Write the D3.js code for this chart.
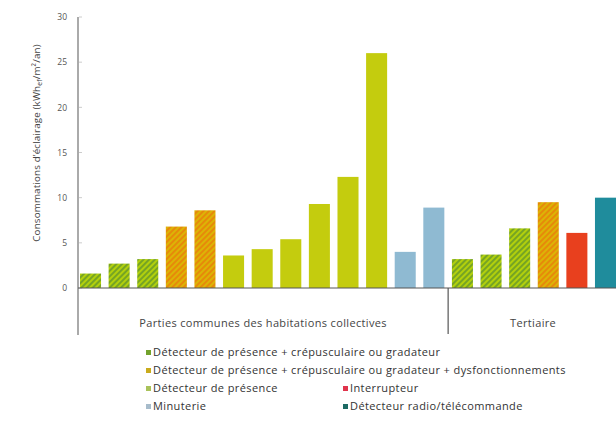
<!DOCTYPE html>
<html><head><meta charset="utf-8">
<script src="https://cdn.jsdelivr.net/npm/d3@7"></script>
<style>body{margin:0;background:#fff;}svg{display:block;font-family:"Open Sans",sans-serif;}</style>
</head><body>
<svg id="c" width="616" height="421"></svg>
<script>
const groups = ["Parties communes des habitations collectives", "Tertiaire"];
const groupOf = [0,0,0,0,0,0,0,0,0,0,0,0,0,1,1,1,1,1,1];
const values = [1.6,2.7,3.2,6.8,8.6,3.6,4.3,5.4,9.3,12.3,26.0,4.0,8.9,3.2,3.7,6.6,9.5,6.1,10.0];
const types = ["dc","dc","dc","dcd","dcd","d","d","d","d","d","d","m","m","dc","dc","dc","dcd","i","r"];
const yTicks = [0,5,10,15,20,25,30];
const legendKeys = ["dc","dcd","d","i","m","r"];
const legendLabels = {
  dc: "Détecteur de présence + crépusculaire ou gradateur",
  dcd: "Détecteur de présence + crépusculaire ou gradateur + dysfonctionnements",
  d: "Détecteur de présence",
  i: "Interrupteur",
  m: "Minuterie",
  r: "Détecteur radio/télécommande"
};
const fills = {dc:"url(#hg)", dcd:"url(#ho)", d:"#c4cc0e", i:"#e8401e", m:"#8fbad2", r:"#1f8c9c"};
const legendColors = {dc:"#72a22c", dcd:"#c9ab1c", d:"#a9c25a", i:"#e0344c", m:"#a7bccb", r:"#1c6a64"};

const svg = d3.select("#c");
const defs = svg.append("defs");
function hatch(id, base, stripe){
  const p = defs.append("pattern").attr("id",id).attr("patternUnits","userSpaceOnUse")
    .attr("width",4).attr("height",4).attr("patternTransform","rotate(45)");
  p.append("rect").attr("width",4).attr("height",4).attr("fill",base);
  p.append("rect").attr("width",2).attr("height",4).attr("fill",stripe);
}
hatch("hg","#b2d00c","#76a424");
hatch("ho","#dcb406","#e68a0a");

const x = d3.scaleBand().domain(d3.range(values.length)).range([78,618]).paddingInner(0.265).paddingOuter(0.07);
const y = d3.scaleLinear().domain([0,30]).range([288,17]);

// y axis
const ya = svg.append("g").attr("transform","translate(78,0)")
  .call(d3.axisLeft(y).tickValues(yTicks).tickSize(0).tickPadding(11));
ya.select(".domain").remove();
ya.selectAll("text").attr("fill","#555").style("font-size","8.5px").style("font-family","'Open Sans',sans-serif");
svg.append("line").attr("x1",78).attr("x2",78).attr("y1",17).attr("y2",335).attr("stroke","#aaa").attr("stroke-width",2);
svg.selectAll(".yt").data(yTicks).join("line").attr("x1",79).attr("x2",82)
  .attr("y1",d=>y(d)).attr("y2",d=>y(d)).attr("stroke","#ccc");

svg.append("text").attr("transform","translate(40,"+143+") rotate(-90)").attr("text-anchor","middle")
  .attr("fill","#444").style("font-size","9.8px").style("letter-spacing","0.15px")
  .html('Consommations d’éclairage (kWh<tspan dy="2" font-size="6.8">ef</tspan><tspan dy="-2">/m²/an)</tspan>');

// bars
svg.selectAll(".bar").data(values).join("rect").attr("class","bar")
  .attr("x",(d,i)=>x(i)).attr("width",x.bandwidth())
  .attr("y",d=>y(d)).attr("height",d=>y(0)-y(d))
  .attr("fill",(d,i)=>fills[types[i]]);

// baseline
svg.append("line").attr("x1",78).attr("x2",616).attr("y1",y(0)).attr("y2",y(0)).attr("stroke","#555").attr("stroke-width",1);

// group separators and labels
const step = x.step();
const firstIdx = groups.map((g,gi)=>groupOf.indexOf(gi));
const sep = x(firstIdx[1]) - (step - x.bandwidth())/2;
svg.append("line").attr("x1",sep).attr("x2",sep).attr("y1",y(0)).attr("y2",334).attr("stroke","#555").attr("stroke-width",1.2);
groups.forEach((g,gi)=>{
  const a = gi===0 ? 78 : sep;
  const b = gi===0 ? sep : 618;
  svg.append("text").attr("x",(a+b)/2).attr("y",326.5).attr("text-anchor","middle")
    .attr("fill","#444").style("font-size","11px").style("letter-spacing","0.35px").text(g);
});

// legend
const legPos = {dc:[146,356], dcd:[146,374], d:[146,392], m:[146,410], i:[343,392], r:[343,410]};
legendKeys.forEach(k=>{
  const [lx,ly] = legPos[k];
  svg.append("rect").attr("x",lx).attr("y",ly-6).attr("width",5).attr("height",5).attr("fill",legendColors[k]);
  svg.append("text").attr("x",lx+7).attr("y",ly).attr("fill","#333").style("font-size","11px").style("letter-spacing","0.4px").text(legendLabels[k]);
});
</script>
</body></html>
